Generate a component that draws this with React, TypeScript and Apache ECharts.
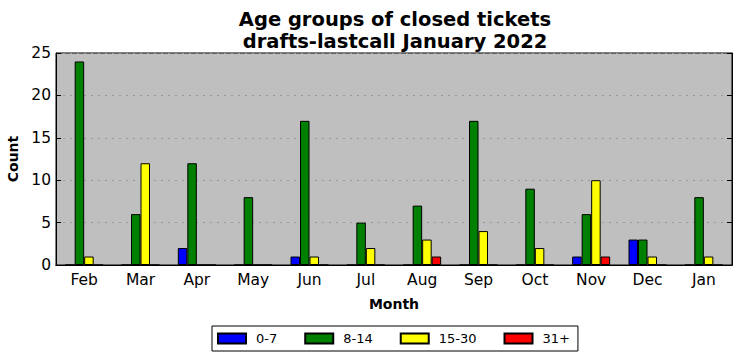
import React, { useEffect, useRef } from "react";
import * as echarts from "echarts";

const months = ["Feb", "Mar", "Apr", "May", "Jun", "Jul", "Aug", "Sep", "Oct", "Nov", "Dec", "Jan"];
const age0to7 = [0, 0, 2, 0, 1, 0, 0, 0, 0, 1, 3, 0];
const age8to14 = [24, 6, 12, 8, 17, 5, 7, 17, 9, 6, 3, 8];
const age15to30 = [1, 12, 0, 0, 1, 2, 3, 4, 2, 10, 1, 1];
const age31plus = [0, 0, 0, 0, 0, 0, 1, 0, 0, 1, 0, 0];
const yTicks = [0, 5, 10, 15, 20, 25];

const FONT = "DejaVu Sans";

export default function App() {
  const ref = useRef<HTMLDivElement>(null);
  useEffect(() => {
    if (!ref.current) return;
    const chart = echarts.init(ref.current, null, { renderer: "svg" });
    const mk = (name: string, data: number[], color: string) => ({
      name,
      type: "bar",
      data,
      barWidth: 9.5,
      barGap: "0%",
      itemStyle: { color, borderColor: "#000", borderWidth: 1 },
      emphasis: { disabled: true },
    });
    chart.setOption({
      animation: false,
      textStyle: { fontFamily: FONT },
      title: {
        text: "Age groups of closed tickets\ndrafts-lastcall January 2022",
        left: 395,
        textAlign: "center",
        top: 8,
        padding: 0,
        textStyle: { fontFamily: FONT, fontSize: 19.5, fontWeight: "bold", color: "#000", lineHeight: 22 },
      },
      grid: {
        left: 56,
        right: 10,
        top: 53,
        bottom: 96,
        outerBoundsMode: "none",
        containLabel: false,
        show: true,
        backgroundColor: "#bfbfbf",
        borderColor: "#000",
        borderWidth: 1,
      },
      legend: {
        left: 212,
        top: 326,
        padding: [6, 8, 6, 5],
        itemWidth: 28,
        itemHeight: 10,
        itemGap: 27,
        borderColor: "#000",
        borderWidth: 1,
        icon: "rect",
        textStyle: { fontFamily: FONT, fontSize: 13, color: "#000", padding: [0, 0, 0, 5] },
        data: ["0-7", "8-14", "15-30", "31+"],
      },
      xAxis: [
        {
          type: "category",
          data: months,
          boundaryGap: true,
          name: "Month",
          nameLocation: "middle",
          nameGap: 32,
          nameTextStyle: { fontFamily: FONT, fontSize: 14, fontWeight: "bold", color: "#000" },
          axisLine: { lineStyle: { color: "#000" } },
          axisTick: { inside: true, alignWithLabel: true, length: 5, lineStyle: { color: "#000" } },
          axisLabel: { fontFamily: FONT, fontSize: 15.5, color: "#000", margin: 7 },
          splitLine: { show: false },
        },
        {
          type: "category",
          data: months,
          position: "top",
          boundaryGap: true,
          axisLine: { lineStyle: { color: "#000" } },
          axisTick: { inside: true, alignWithLabel: true, length: 5, lineStyle: { color: "#000" } },
          axisLabel: { show: false },
        },
      ],
      yAxis: [
        {
          type: "value",
          min: yTicks[0],
          max: yTicks[yTicks.length - 1],
          interval: 5,
          name: "Count",
          nameLocation: "middle",
          nameGap: 31,
          nameTextStyle: { fontFamily: FONT, fontSize: 14, fontWeight: "bold", color: "#000" },
          axisLine: { show: true, lineStyle: { color: "#000" } },
          axisTick: { show: true, inside: true, length: 5, lineStyle: { color: "#000" } },
          axisLabel: { fontFamily: FONT, fontSize: 15.5, color: "#000", margin: 5 },
          splitLine: { show: true, lineStyle: { color: "#999999", type: [2, 5], width: 1 } },
        },
        {
          type: "value",
          min: yTicks[0],
          max: yTicks[yTicks.length - 1],
          interval: 5,
          position: "right",
          axisLine: { show: true, lineStyle: { color: "#000" } },
          axisTick: { show: true, inside: true, length: 5, lineStyle: { color: "#000" } },
          axisLabel: { show: false },
          splitLine: { show: false },
        },
      ],
      series: [
        mk("0-7", age0to7, "#0000ff"),
        mk("8-14", age8to14, "#008000"),
        mk("15-30", age15to30, "#ffff00"),
        mk("31+", age31plus, "#ff0000"),
      ],
    });
    return () => chart.dispose();
  }, []);
  return <div ref={ref} style={{ position: "absolute", left: 0, top: 0, width: 742, height: 361 }} />;
}
